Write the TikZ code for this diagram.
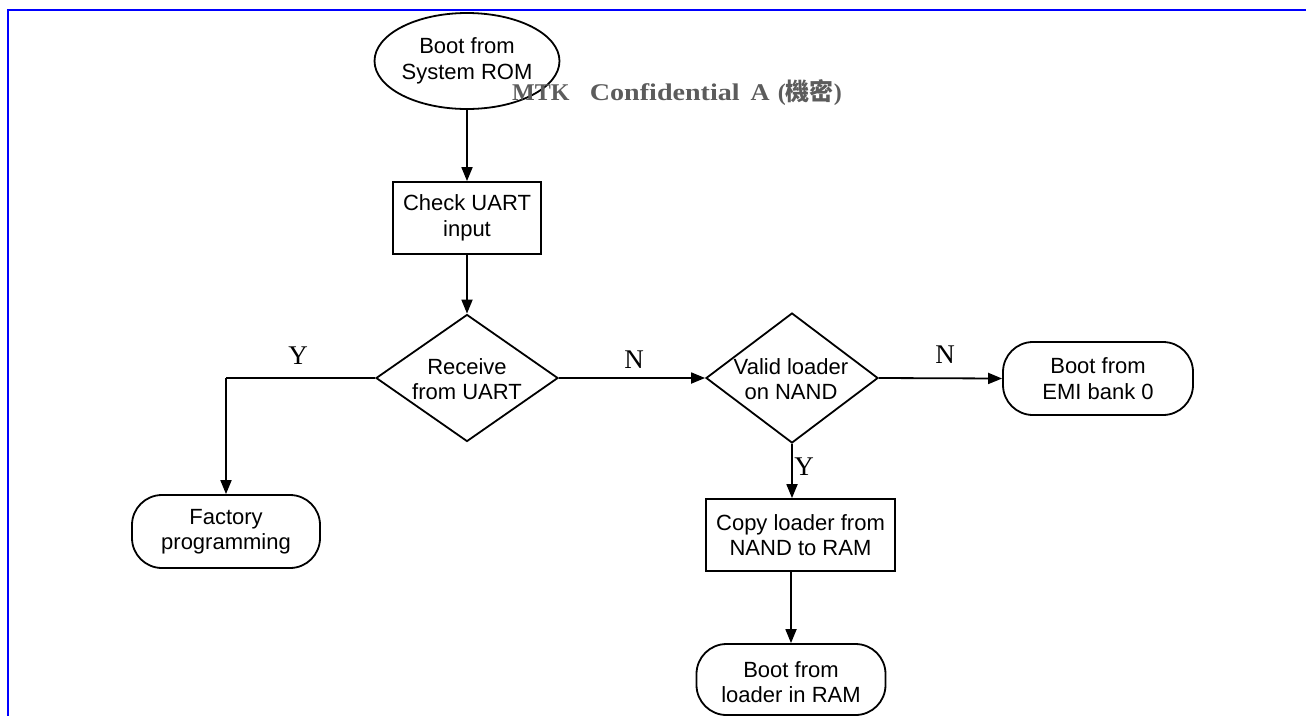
\documentclass[tikz,border=0pt]{standalone}
\usepackage{fontspec}
\setmainfont{Liberation Sans}
\newfontfamily\seriffont{Liberation Serif}
\newfontfamily\cjkfont{Noto Sans CJK TC}
\usetikzlibrary{shapes.geometric,arrows.meta}
\definecolor{frameblue}{RGB}{0,0,255}
\definecolor{wmgray}{RGB}{92,92,92}
\tikzset{
  every node/.style={font=\fontsize{22}{25.5}\selectfont, align=center, inner sep=0pt},
  conn/.style={line width=1.8pt, -{Triangle[length=14pt,width=11pt]}},
  plainline/.style={line width=1.8pt},
  boxnode/.style={draw, line width=1.8pt, rectangle, minimum width=148pt, minimum height=72pt},
  termnode/.style={draw, line width=1.8pt, rectangle, rounded corners=30pt, minimum width=189pt, minimum height=72pt},
  decnode/.style={draw, line width=1.8pt, diamond, inner sep=0pt},
  yn/.style={font=\fontsize{27}{30}\selectfont\seriffont}
}
\begin{document}
\begin{tikzpicture}[x=1pt,y=-1pt]
\useasboundingbox (0,0) rectangle (1306,716);
% frame
\draw[frameblue, line width=2pt] (1306,10) -- (8,10) -- (8,716);
% nodes
\node[draw, line width=1.8pt, ellipse, minimum width=176pt, minimum height=96pt] (rom) at (467,61) {Boot from\\System ROM};
\node[boxnode] (chk) at (467,218) {Check UART\\input};
\node[decnode, minimum width=182pt, minimum height=127pt] (rcv) at (467,378) {};
\node at (467,379) {Receive\\from UART};
\node[decnode, minimum width=172pt, minimum height=130pt] (vld) at (792,378) {};
\node at (791,379) {Valid loader\\on NAND};
\node[termnode, minimum width=190pt, minimum height=73pt] (emi) at (1098,378.5) {Boot from\\EMI bank 0};
\node[termnode, minimum width=188pt, minimum height=73pt] (fac) at (226,531.5) {Factory\\programming};
\node[boxnode, minimum width=189pt, minimum height=72pt] (cpy) at (800.5,535) {Copy loader from\\NAND to RAM};
\node[termnode, minimum width=189pt, minimum height=71pt] (ram) at (791,679.5) {};
\node at (791,682) {Boot from\\loader in RAM};
\coordinate (ycorner) at (226,378);
% connectors
\draw[conn] (rom.south) -- (chk.north);
\draw[conn] (chk.south) -- (rcv.north);
\draw[plainline] (rcv.west) -- (ycorner);
\draw[conn] (ycorner) -- (fac.north);
\draw[conn] (rcv.east) -- (vld.west);
\draw[conn] (vld.east) -- (emi.west);
\draw[conn] (vld.south) -- (vld.south |- cpy.north);
\draw[conn] (cpy.south -| ram.north) -- (ram.north);
% labels
\node[yn] (ly1) at (298,356) {Y};
\node[yn] (ln1) at (634,360) {N};
\node[yn] (ln2) at (945,355) {N};
\node[yn] (ly2) at (804,467) {Y};
% watermark
\node[anchor=west, text=wmgray, font=\fontsize{24}{26}\selectfont\seriffont\bfseries] (wm) at (512,93)
  {MTK\hspace{0.85em}\scalebox{1.17}[1]{Confidential}\hspace{0.45em}\scalebox{1.1}[1]{A}\hspace{0.35em}({\cjkfont\bfseries\fontsize{24}{26}\selectfont 機密})};
\end{tikzpicture}
\end{document}
